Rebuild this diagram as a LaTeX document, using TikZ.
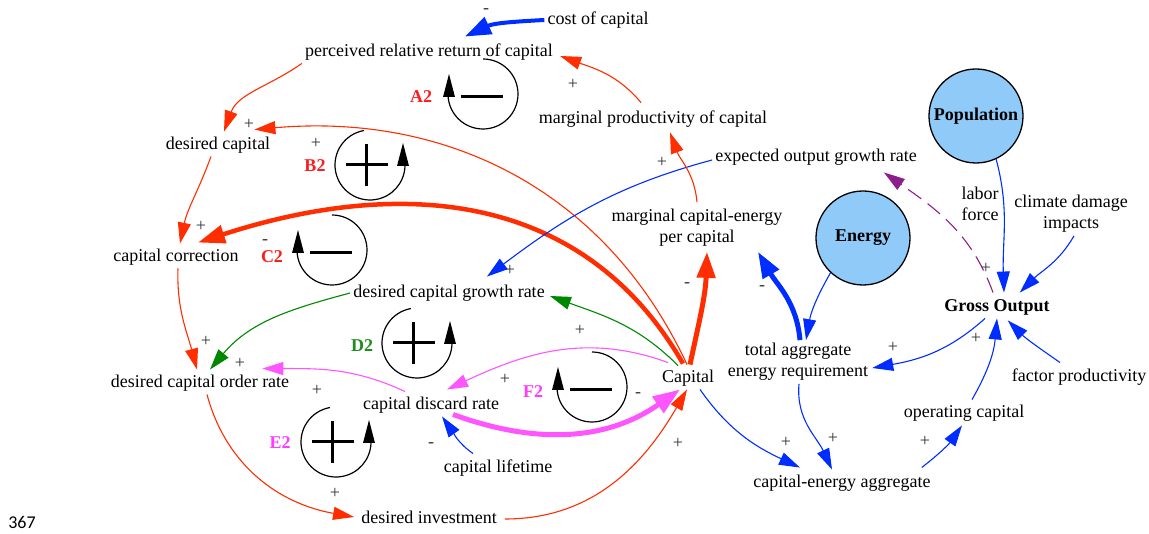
\documentclass[tikz,border=0pt]{standalone}
\usepackage{fontspec}
\setmainfont{Liberation Serif}
\newfontfamily\pagefont{Carlito}
\usetikzlibrary{arrows.meta}
\definecolor{lred}{RGB}{255,45,0}
\definecolor{lblue}{RGB}{0,45,255}
\definecolor{lgreen}{RGB}{0,135,0}
\definecolor{lmag}{RGB}{255,85,255}
\definecolor{lpurp}{RGB}{140,30,140}
\definecolor{cfill}{RGB}{144,202,249}
\definecolor{tred}{RGB}{250,30,30}
\definecolor{tgreen}{RGB}{30,140,30}
\definecolor{tmag}{RGB}{255,60,255}
\tikzset{
  var/.style={font=\fontsize{18}{21}\selectfont, inner sep=3pt, text height=12.5pt, text depth=4pt},
  var2/.style={font=\fontsize{18}{21}\selectfont, inner sep=3pt, align=center},
  pol/.style={font=\fontsize{18}{18}\selectfont, text=black!80, inner sep=0pt},
  lpname/.style={font=\bfseries\fontsize{18}{21}\selectfont, inner sep=0pt},
  lk/.style={line width=1.1pt, -{Triangle[length=21pt,width=13pt]}},
  thk/.style={line width=4.5pt, -{Triangle[length=27pt,width=18pt]}},
  stock/.style={circle, draw=black, line width=1.3pt, fill=cfill, minimum size=94pt, inner sep=0pt, font=\bfseries\fontsize{18}{21}\selectfont},
  posloop/.pic={
    \draw[line width=1.2pt] (100:35) arc[start angle=100,end angle=358,radius=35];
    \fill (27,-1) -- (39,-1) -- (33,22) -- cycle;
    \draw[line width=3pt] (-24,0) -- (18,0) (-4,-21) -- (-4,21);
  },
  negloop/.pic={
    \draw[line width=1.2pt] (90:35) arc[start angle=90,end angle=-178,radius=35];
    \fill (-40,-3) -- (-28,-3) -- (-34,20) -- cycle;
    \draw[line width=3pt] (-22,-3) -- (20,-3);
  },
}
\begin{document}
\begin{tikzpicture}[x=1pt,y=1pt]
\useasboundingbox (0,0) rectangle (1149,-534);
% variables
\node[var] (cost) at (598,-20) {cost of capital};
\node[var] (perc) at (429,-52) {perceived relative return of capital};
\node[var] (mpc) at (653,-119) {marginal productivity of capital};
\node[var] (dcap) at (218,-145) {desired capital};
\node[var] (eogr) at (816,-157) {expected output growth rate};
\node[var2] (mce) at (697,-228) {marginal capital-energy\\per capital};
\node[var] (cc) at (176,-257) {capital correction};
\node[var] (dcgr) at (449,-293) {desired capital growth rate};
\node[var] (K) at (688,-378) {Capital};
\node[var] (dcor) at (200,-383) {desired capital order rate};
\node[var] (cdr) at (431,-405) {capital discard rate};
\node[var] (cl) at (498,-468) {capital lifetime};
\node[var] (di) at (429,-519) {desired investment};
\node[var2] (taer) at (798,-362) {total aggregate\\energy requirement};
\node[var] (cea) at (842,-483) {capital-energy aggregate};
\node[var] (oc) at (964,-413) {operating capital};
\node[var] (fp) at (1079,-377) {factor productivity};
\node[var, font=\bfseries\fontsize{18}{21}\selectfont] (GO) at (997,-307) {Gross Output};
\node[var2] (cdi) at (1071,-214) {climate damage\\impacts};
\node[var2] (lf) at (980,-204) {labor\\force};
\node[stock] (pop) at (976,-116) {Population};
\node[stock] (en) at (863,-238) {Energy};
\node[font=\pagefont\fontsize{18}{20}\selectfont, inner sep=0pt] (pg) at (22,-522) {367};
% loop symbols
\pic (lA) at (483,-94) {negloop};
\pic (lB) at (370,-165) {posloop};
\pic (lC) at (332,-250) {negloop};
\pic (lD) at (417,-343) {posloop};
\pic (lE) at (336,-442) {posloop};
\pic (lF) at (592,-387) {negloop};
\node[lpname, text=tred] (nA) at (421,-97) {A2};
\node[lpname, text=tred] (nB) at (315,-166) {B2};
\node[lpname, text=tred] (nC) at (272,-257) {C2};
\node[lpname, text=tgreen] (nD) at (362,-346) {D2};
\node[lpname, text=tmag] (nE) at (280,-443) {E2};
\node[lpname, text=tmag] (nF) at (533,-392) {F2};
% connectors
\draw[lblue, line width=4pt, -{Triangle[length=26pt,width=18pt]}] (cost.west) to[out=183,in=25] ([xshift=36pt,yshift=4pt]perc.north);
\draw[lred, lk] ([xshift=-12pt,yshift=5pt]mpc.north) to[out=130,in=-20] ([xshift=4pt,yshift=-4pt]perc.east);
\draw[lred, lk] (perc.south west) to[out=215,in=70] ([xshift=6pt,yshift=2pt]dcap.north);
\draw[lred, lk] ([xshift=-1pt,yshift=2pt]K.north) to[out=115,in=5] ([xshift=-19pt,yshift=4pt]dcap.north east);
\draw[lred, lk] ([xshift=-7pt]dcap.south) to[out=250,in=78] ([xshift=4pt,yshift=2pt]cc.north);
\draw[lred, thk] ([xshift=-5pt,yshift=3pt]K.north) to[out=120,in=18,looseness=1.05] ([xshift=22pt,yshift=3pt]cc.north);
\draw[lred, lk] ([xshift=2pt]cc.south) to[out=268,in=105] ([xshift=-3pt,yshift=2pt]dcor.north);
\draw[lgreen, lk] (dcgr.west) to[out=195,in=50] ([xshift=10pt,yshift=2pt]dcor.north);
\draw[lmag, lk] ([xshift=-26pt,yshift=2pt]cdr.north) to[out=155,in=0] ([xshift=-30pt,yshift=3pt]dcor.north east);
\draw[lred, lk] ([xshift=7pt]dcor.south) to[out=285,in=170] ([xshift=-4pt,yshift=2pt]di.west);
\draw[lred, lk] ([xshift=5pt]di.east) to[out=0,in=240] ([xshift=-1pt]K.south);
\draw[lgreen, lk] ([xshift=-10pt,yshift=1pt]K.north) to[out=135,in=340] ([xshift=2pt,yshift=-3pt]dcgr.east);
\draw[lblue, lk] ([yshift=-3pt]eogr.west) to[out=195,in=37] ([xshift=38pt,yshift=5pt]dcgr.north);
\draw[lmag, lk] ([xshift=-20pt,yshift=4pt]K.north) to[out=160,in=25] ([xshift=16pt,yshift=4pt]cdr.north);
\draw[lmag, line width=5pt, -{Triangle[length=27pt,width=19pt]}] ([xshift=22pt,yshift=2pt]cdr.south) to[out=-20,in=215] ([xshift=-8pt]K.south);
\draw[lblue, lk] ([xshift=-25pt,yshift=3pt]cl.north) to[out=145,in=305] ([xshift=11pt]cdr.south);
\draw[lred, line width=5pt, -{Triangle[length=26pt,width=18pt]}] ([xshift=2pt,yshift=2pt]K.north) to[out=78,in=268] ([xshift=10pt,yshift=-2pt]mce.south);
\draw[lred, lk] ([yshift=4pt]mce.north) to[out=95,in=290] ([xshift=17pt,yshift=-2pt]mpc.south);
\draw[lblue, lk] ([xshift=12pt]K.south) to[out=-55,in=155] ([xshift=-42pt,yshift=4pt]cea.north);
\draw[lblue, lk] ([xshift=1pt]taer.south) to[out=265,in=115] ([xshift=-10pt,yshift=2pt]cea.north);
\draw[lblue, lk] (en.227) to[out=240,in=80] ([xshift=8pt]taer.north);
\draw[lblue, line width=5pt, -{Triangle[length=26pt,width=18pt]}] ([xshift=2pt]taer.north) to[out=95,in=300] ([xshift=61pt,yshift=-2pt]mce.south);
\draw[lblue, lk] ([xshift=-12pt]GO.south) to[out=222,in=10] ([xshift=1pt,yshift=-6pt]taer.east);
\draw[lblue, lk] ([xshift=-12pt,yshift=4pt]cea.north east) to[out=38,in=235] ([xshift=-2pt,yshift=-1pt]oc.south);
\draw[lblue, lk] ([xshift=8pt,yshift=2pt]oc.north) to[out=60,in=265] (GO.south);
\draw[lblue, lk] ([xshift=-19pt,yshift=3pt]fp.north) to[out=145,in=315] ([xshift=-45pt,yshift=-2pt]GO.south east);
\draw[lblue, lk] ([xshift=3pt]cdi.south) to[out=240,in=45] ([xshift=-33pt,yshift=3pt]GO.north east);
\draw[lblue, lk] (pop.-65) to[out=-75,in=92] ([xshift=7pt,yshift=3pt]GO.north);
\draw[lpurp, lk, dash pattern=on 16pt off 8pt] ([xshift=-4pt,yshift=3pt]GO.north) to[out=110,in=325] ([xshift=-36pt,yshift=-4pt]eogr.south east);
% polarities
\node[pol] (p1) at (486,-11) {-};
\node[pol] (p2) at (573,-84) {+};
\node[pol] (p3) at (249,-124) {+};
\node[pol] (p4) at (316,-143) {+};
\node[pol] (p5) at (201,-226) {+};
\node[pol] (p6) at (265,-242) {-};
\node[pol] (p7) at (206,-341) {+};
\node[pol] (p8) at (240,-363) {+};
\node[pol] (p9) at (317,-390) {+};
\node[pol] (p10) at (335,-493) {+};
\node[pol] (p11) at (580,-330) {+};
\node[pol] (p12) at (505,-379) {+};
\node[pol] (p13) at (638,-395) {-};
\node[pol] (p14) at (431,-445) {-};
\node[pol] (p15) at (678,-443) {+};
\node[pol] (p16) at (510,-270) {+};
\node[pol] (p17) at (687,-285) {-};
\node[pol] (p18) at (762,-288) {-};
\node[pol] (p19) at (662,-162) {+};
\node[pol] (p20) at (986,-268) {+};
\node[pol] (p21) at (893,-347) {+};
\node[pol] (p22) at (976,-338) {+};
\node[pol] (p23) at (786,-442) {+};
\node[pol] (p24) at (833,-438) {+};
\node[pol] (p25) at (925,-441) {+};
\end{tikzpicture}
\end{document}
